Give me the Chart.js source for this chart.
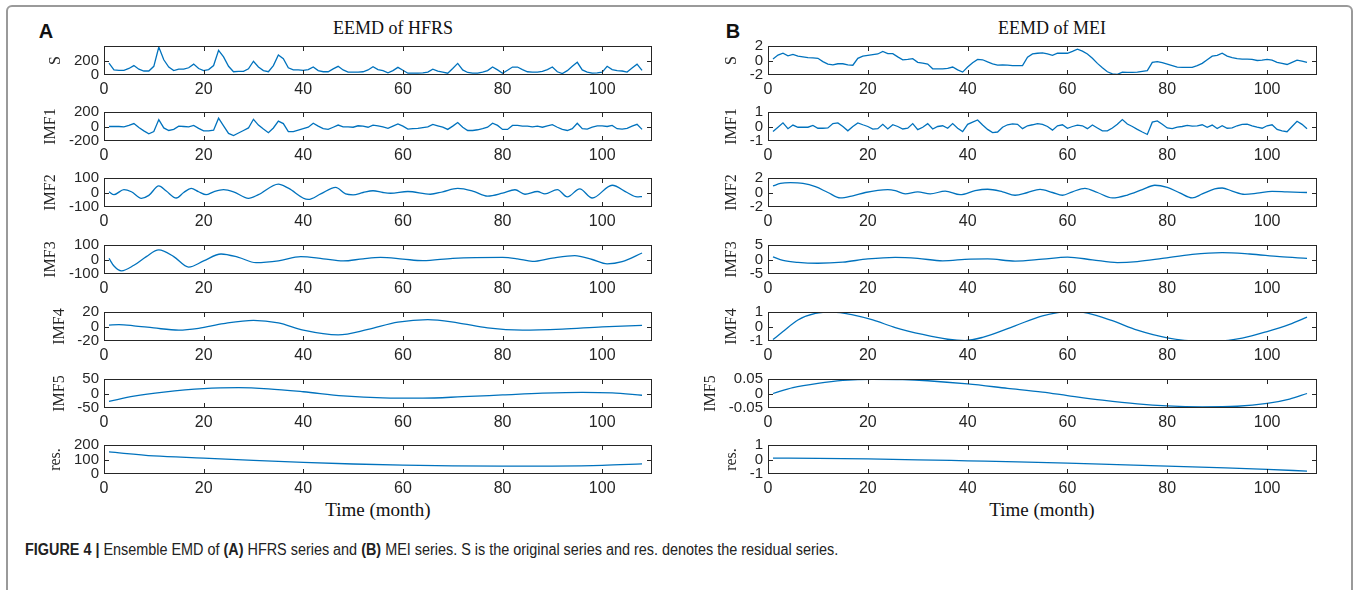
<!DOCTYPE html>
<html>
<head>
<meta charset="utf-8">
<script src="https://cdn.jsdelivr.net/npm/chart.js@4.4.1/dist/chart.umd.min.js"></script>
<style>
body{margin:0;background:#fff;width:1357px;height:590px;overflow:hidden;position:relative;font-family:"Liberation Sans",Arial,sans-serif}
.frame{position:absolute;left:6px;top:5px;width:1343px;height:600px;border:2px solid #9a9a9a;border-radius:6px}
.lbl{position:absolute;white-space:nowrap;color:#111}
.panel{font-weight:bold;font-size:20px;transform:translate(-50%,-50%)}
.ttl{font-family:"Liberation Serif",serif;font-size:18px;transform:translate(-50%,-50%)}
.xlab{font-family:"Liberation Serif",serif;font-size:19px;transform:translate(-50%,-50%)}
.cap{font-size:16px;color:#222;transform:translateY(-50%) scaleX(0.9);transform-origin:0 50%}
canvas{position:absolute}
</style>
</head>
<body>
<div class="frame"></div>
<div class="lbl panel" style="left:46px;top:31px">A</div>
<div class="lbl panel" style="left:733px;top:31px">B</div>
<div class="lbl ttl" style="left:393px;top:28px">EEMD of HFRS</div>
<div class="lbl ttl" style="left:1052px;top:28px">EEMD of MEI</div>
<div class="lbl xlab" style="left:378px;top:510px">Time (month)</div>
<div class="lbl xlab" style="left:1042px;top:510px">Time (month)</div>
<div class="lbl cap" style="left:25px;top:550px"><b>FIGURE 4 |</b> Ensemble EMD of <b>(A)</b> HFRS series and <b>(B)</b> MEI series. S is the original series and res. denotes the residual series.</div>

<script>
// ===== data =====
const months = [1,2,3,4,5,6,7,8,9,10,11,12,13,14,15,16,17,18,19,20,21,22,23,24,25,26,27,28,29,30,31,32,33,34,35,36,37,38,39,40,41,42,43,44,45,46,47,48,49,50,51,52,53,54,55,56,57,58,59,60,61,62,63,64,65,66,67,68,69,70,71,72,73,74,75,76,77,78,79,80,81,82,83,84,85,86,87,88,89,90,91,92,93,94,95,96,97,98,99,100,101,102,103,104,105,106,107,108]
const xTicks = [0,20,40,60,80,100]

// HFRS
const hfrsS = [165,70,65,65,90,130,80,55,55,120,385,210,110,60,80,80,100,150,90,60,75,130,340,250,120,45,50,50,85,190,110,60,45,130,275,225,100,70,70,65,75,110,60,45,45,85,120,70,40,40,40,45,70,115,75,60,30,60,105,65,25,25,25,30,40,80,55,40,25,90,160,70,35,25,25,40,60,110,70,25,65,110,110,75,45,40,40,50,75,110,45,20,60,120,175,70,40,25,30,40,120,75,60,55,40,95,150,65]
const hfrsImf1 = [0,0,0,-5,15,40,-15,-60,-100,-70,95,-20,-55,-40,5,0,-5,15,-25,-60,-60,-50,115,10,-95,-125,-90,-55,-20,100,20,-35,-85,-20,75,40,-70,-70,-50,-30,-10,45,5,-30,-40,-10,20,-5,-5,-10,10,5,-10,20,10,-5,-25,5,35,5,-35,-30,-25,-15,-5,30,10,-10,-40,5,55,-10,-55,-55,-45,-30,-10,45,15,-40,-40,15,15,5,5,-5,5,-10,10,25,-10,-40,-55,-30,45,-30,-35,-10,10,10,0,15,-30,-35,-25,5,30,-40]
const hfrsImf2T = [1,2,4,5.5,7.5,9,11,12.5,14.5,16,17.5,19,20.5,22,24,26,29,31,35,37,41,43.5,46.5,48.5,50,52,54,56,57.5,61,65.5,68,71,74,77,80,82.5,84.5,87,88.5,91,93,95.5,98,102,105,107,108]
const hfrsImf2 = [5,-15,20,5,-40,-20,45,10,-38,0,28,5,-15,5,20,5,-40,-15,58,30,-48,-10,35,-10,-16,0,12,0,-5,7,-12,5,28,10,-25,-5,19,-12,7,-10,20,-30,25,-38,50,0,-30,-28]
const hfrsImf3T = [1,2,3.5,6,8.5,11,14,17,20,23.5,27,30.5,35,39.5,44,48,52,55.5,60,64,70,80,83,86,90,94.5,98,101,104,108]
const hfrsImf3 = [8,-45,-78,-40,20,66,20,-52,-10,38,15,-22,-10,20,5,-10,5,14,3,-8,8,15,5,-13,10,27,0,-30,-15,45]
const hfrsImf4T = [1,3,6,10,15,19,24,30,35,40,47,53,59,65,71,77,84,92,100,108]
const hfrsImf4 = [2,2.5,1,-2,-5,-2.5,4,8.5,5,-5,-11.5,-4,6,9.5,5,-2,-5,-3.5,-0.5,1.5]
const hfrsImf5T = [1,6,12,20,27,33,40,48,56,64,72,80,88,96,102,108]
const hfrsImf5 = [-27,-9,5,17,20,16,6,-8,-15,-16,-11,-5,1,4,2,-6]
const hfrsResT = [1,10,20,30,40,50,60,70,80,90,100,108]
const hfrsRes = [152,125,110,94,80,69,61,56,54,55,60,70]

// MEI
const meiS = [0.2,0.75,1.0,0.65,0.85,0.6,0.5,0.4,0.35,0.3,-0.15,-0.5,-0.6,-0.45,-0.45,-0.6,-0.65,0.3,0.6,0.7,0.8,0.9,1.25,0.95,0.95,0.5,0.1,0.15,0.25,-0.25,-0.35,-0.5,-1.15,-1.15,-1.15,-1.1,-0.9,-1.3,-1.6,-0.9,-0.3,0.15,0.1,-0.2,-0.45,-0.65,-0.6,-0.65,-0.7,-0.7,-0.7,0.45,0.9,1.0,1.05,0.9,0.7,1.0,1.0,1.0,1.25,1.55,1.3,0.9,0.3,-0.4,-1.0,-1.55,-1.85,-1.9,-1.6,-1.65,-1.65,-1.6,-1.5,-1.4,-0.25,-0.15,-0.3,-0.5,-0.7,-0.9,-0.95,-0.95,-0.95,-0.7,-0.4,0.1,0.6,0.7,1.0,0.6,0.4,0.25,0.2,0.2,0.15,0.0,0.05,0.15,0.05,-0.25,-0.4,-0.55,-0.25,0.05,-0.1,-0.25]
const meiImf1 = [-0.35,-0.05,0.25,-0.15,0.1,-0.05,-0.05,-0.05,0.07,-0.12,-0.12,-0.1,0.2,0.25,0.0,-0.3,0.0,0.25,0.12,0.0,-0.18,-0.15,0.15,-0.17,0.12,0.0,-0.17,-0.12,0.2,-0.22,-0.05,0.2,-0.17,0.0,0.05,-0.12,0.2,-0.12,-0.35,0.15,0.3,0.45,0.1,-0.2,-0.42,-0.38,-0.05,0.12,0.18,0.15,-0.15,0.05,0.12,0.2,0.15,0.0,-0.25,0.05,0.12,-0.12,0.0,0.1,0.05,-0.15,0.1,-0.1,-0.3,-0.3,-0.1,0.15,0.48,0.17,0.0,-0.2,-0.38,-0.55,0.3,0.38,0.15,-0.1,-0.15,-0.05,0.0,0.08,0.02,0.05,0.12,-0.05,0.1,-0.14,0.05,-0.12,-0.1,0.05,0.15,0.17,0.05,-0.05,-0.12,0.05,0.12,-0.2,-0.3,-0.36,0.0,0.36,0.15,-0.15]
const meiImf2T = [1,2.5,4.5,7,9.5,12,14.5,17,19.5,22,24,25.5,27.5,30,32.5,35.5,38.5,41.5,44,47,49.5,52,54.5,57,59,61,63.5,66,69,72,75,77.5,80,82.5,85,87,89.5,91,93,95.5,98,101,104,108]
const meiImf2 = [0.9,1.25,1.35,1.25,0.8,0.0,-0.75,-0.45,0.0,0.3,0.4,0.25,-0.2,0.1,-0.2,0.2,-0.3,0.25,0.45,0.1,-0.38,0.0,0.42,0.0,-0.38,0.1,0.58,0.0,-0.75,-0.35,0.4,1.0,0.7,-0.05,-0.75,-0.2,0.5,0.62,0.2,-0.25,-0.1,0.15,0.08,0.0]
const meiImf3T = [1,3,6,10,15,20,25.5,30,35,40.5,44,49.5,55,60,65,70,74,79,85,91,96.5,102.5,108]
const meiImf3 = [0.9,-0.3,-1.0,-1.3,-0.9,0.2,0.75,0.4,-0.45,0.15,0.2,-0.55,0.1,0.8,-0.1,-1.05,-0.7,0.4,1.8,2.4,1.9,1.0,0.4]
const meiImf4T = [1,3,6,9.5,13,17,21,25.5,31,36,39.5,43,49.5,55,60.5,64,69,74,80,86.5,90,95,100,104.5,108]
const meiImf4 = [-0.9,-0.35,0.45,0.9,1.0,0.8,0.45,-0.07,-0.55,-0.88,-0.97,-0.75,0.05,0.73,1.05,0.93,0.4,-0.25,-0.78,-1.0,-1.0,-0.8,-0.35,0.15,0.65]
const meiImf5T = [1,5,10,15,21,27,32,40,48,55,60,67,74,80,87,94,100,104.5,108]
const meiImf5 = [0.0,0.02,0.035,0.045,0.049,0.048,0.044,0.033,0.018,0.005,-0.007,-0.023,-0.036,-0.043,-0.046,-0.044,-0.034,-0.019,0.0]
const meiResT = [1,10,20,30,40,50,60,70,80,90,100,108]
const meiRes = [0.1,0.08,0.04,-0.02,-0.09,-0.16,-0.25,-0.35,-0.45,-0.56,-0.68,-0.8]

// y ticks
const ticksHfrsS = [0,200], ticksHfrsImf1 = [-200,0,200], ticksHfrsImf2 = [-100,0,100], ticksHfrsImf3 = [-100,0,100]
const ticksHfrsImf4 = [-20,0,20], ticksHfrsImf5 = [-50,0,50], ticksHfrsRes = [0,100,200]
const ticksMeiS = [-2,0,2], ticksMeiImf1 = [-1,0,1], ticksMeiImf2 = [-2,0,2], ticksMeiImf3 = [-5,0,5]
const ticksMeiImf4 = [-1,0,1], ticksMeiImf5 = [-0.05,0,0.05], ticksMeiRes = [-1,0,1]

// ===== layout =====
const boxTops = [44,110,176,243,310,377,443]
const boxH = 31
const panels = [
  {canvasLeft:10, boxLeft:104, boxRight:652, rows:[
    ["S",months,hfrsS,ticksHfrsS,0,400,false],
    ["IMF1",months,hfrsImf1,ticksHfrsImf1,-200,200,false],
    ["IMF2",hfrsImf2T,hfrsImf2,ticksHfrsImf2,-100,100,true],
    ["IMF3",hfrsImf3T,hfrsImf3,ticksHfrsImf3,-100,100,true],
    ["IMF4",hfrsImf4T,hfrsImf4,ticksHfrsImf4,-20,20,true],
    ["IMF5",hfrsImf5T,hfrsImf5,ticksHfrsImf5,-50,50,true],
    ["res.",hfrsResT,hfrsRes,ticksHfrsRes,0,200,true]]},
  {canvasLeft:676, boxLeft:768, boxRight:1317, rows:[
    ["S",months,meiS,ticksMeiS,-2,2,false],
    ["IMF1",months,meiImf1,ticksMeiImf1,-1,1,false],
    ["IMF2",meiImf2T,meiImf2,ticksMeiImf2,-2,2,true],
    ["IMF3",meiImf3T,meiImf3,ticksMeiImf3,-5,5,true],
    ["IMF4",meiImf4T,meiImf4,ticksMeiImf4,-1,1,true],
    ["IMF5",meiImf5T,meiImf5,ticksMeiImf5,-0.05,0.05,true],
    ["res.",meiResT,meiRes,ticksMeiRes,-1,1,true]]}
]

const TICK_FONT = {family:"Liberation Sans", size:16}
const YTICK_FONT = {family:"Liberation Sans", size:15}
const INK = "#262626"

// box, inward ticks and the rotated y label, like matlab
const matlabAxes = {
  id:"matlabAxes",
  afterDatasetsDraw(chart, args, opts){
    let {ctx, chartArea:a, scales:{x, y}} = chart
    ctx.save()
    ctx.strokeStyle = INK
    ctx.lineWidth = 1
    ctx.strokeRect(a.left+0.5, a.top+0.5, a.width-1, a.height-1)
    ctx.beginPath()
    x.ticks.forEach(t=>{
      let px = Math.round(x.getPixelForValue(t.value))+0.5
      if(px <= a.left+1 || px >= a.right-1) return
      ctx.moveTo(px, a.bottom); ctx.lineTo(px, a.bottom-5)
      ctx.moveTo(px, a.top); ctx.lineTo(px, a.top+5)
    })
    y.ticks.forEach(t=>{
      let py = Math.round(y.getPixelForValue(t.value))+0.5
      if(py <= a.top+1 || py >= a.bottom-1) return
      ctx.moveTo(a.left, py); ctx.lineTo(a.left+5, py)
      ctx.moveTo(a.right, py); ctx.lineTo(a.right-5, py)
    })
    ctx.stroke()

    // y label sits left of the widest tick label
    ctx.font = YTICK_FONT.size+"px '"+YTICK_FONT.family+"'"
    let w = 0
    y.ticks.forEach(t=>{ w = Math.max(w, ctx.measureText(String(t.label)).width) })
    let cx = a.left - 5 - w - 18
    ctx.translate(cx, (a.top+a.bottom)/2)
    ctx.rotate(-Math.PI/2)
    ctx.font = "16px 'Liberation Serif'"
    ctx.fillStyle = INK
    ctx.textAlign = "center"
    ctx.textBaseline = "middle"
    ctx.fillText(opts.text, 0, 0)
    ctx.restore()
  }
}

panels.forEach(p=>{
  p.rows.forEach((r, i)=>{
    let [name, tx, vals, yt, ymin, ymax, smooth] = r
    let cv = document.createElement("canvas")
    let top = boxTops[i] - 12
    let width = p.boxRight + 10 - p.canvasLeft
    let height = 12 + boxH + 30
    cv.width = width; cv.height = height
    cv.style.left = p.canvasLeft+"px"; cv.style.top = top+"px"
    document.body.appendChild(cv)

    new Chart(cv.getContext("2d"), {
      type:"line",
      data:{datasets:[{
        data: vals.map((v,k)=>({x:tx[k], y:v})),
        borderColor:"#0072BD",
        borderWidth:1.3,
        pointRadius:0,
        fill:false,
        tension: smooth ? 0.4 : 0,
        cubicInterpolationMode: smooth ? "monotone" : "default"
      }]},
      options:{
        responsive:false,
        animation:false,
        devicePixelRatio:1,
        layout:{padding:{left:0, top:12, right:10, bottom:0}},
        plugins:{legend:{display:false}, tooltip:{enabled:false}, matlabAxes:{text:name}},
        scales:{
          x:{type:"linear", min:0, max:110,
            grid:{display:false, drawTicks:false}, border:{display:false},
            afterBuildTicks:s=>{ s.ticks = xTicks.map(v=>({value:v})) },
            afterFit:s=>{ s.height = 30 },
            ticks:{font:TICK_FONT, color:INK, padding:5, autoSkip:false, maxRotation:0, callback:v=>String(v)}},
          y:{type:"linear", min:ymin, max:ymax,
            grid:{display:false, drawTicks:false}, border:{display:false},
            afterBuildTicks:s=>{ s.ticks = yt.map(v=>({value:v})) },
            afterFit:s=>{ s.width = p.boxLeft - p.canvasLeft },
            ticks:{font:YTICK_FONT, color:INK, padding:5, autoSkip:false, callback:v=>String(v)}}
        }
      },
      plugins:[matlabAxes]
    })
  })
})
</script>
</body>
</html>
